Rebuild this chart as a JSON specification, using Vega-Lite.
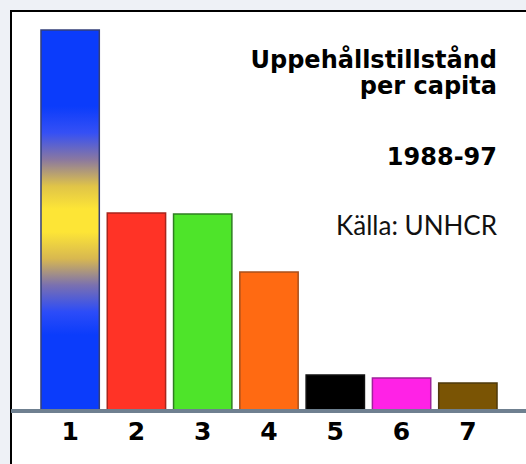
{
  "$schema": "https://vega.github.io/schema/vega-lite/v6.json",
  "width": 530,
  "height": 470,
  "autosize": {"type": "none"},
  "padding": {"left": 11, "top": 11, "right": 0, "bottom": 0},
  "background": "#eef1f6",
  "config": {"view": {"fill": "white", "stroke": "black", "strokeWidth": 2}},
  "data": {"values": [
    {"c": "1", "v": 3.81},
    {"c": "2", "v": 1.98},
    {"c": "3", "v": 1.97},
    {"c": "4", "v": 1.39},
    {"c": "5", "v": 0.36},
    {"c": "6", "v": 0.33},
    {"c": "7", "v": 0.28}
  ]},
  "layer": [
    {
      "transform": [{"filter": "datum.c != '1'"}],
      "mark": {"type": "bar", "strokeWidth": 1.5},
      "encoding": {
        "x": {"field": "c", "type": "nominal", "axis": null, "scale": {"range": [26, 490], "paddingInner": 0.12, "paddingOuter": 0.06}},
        "y": {"field": "v", "type": "quantitative", "axis": null, "scale": {"domain": [0, 4], "range": [400, 0], "nice": false}},
        "fill": {"field": "c", "type": "nominal", "legend": null, "scale": {"domain": ["2", "3", "4", "5", "6", "7"], "range": ["#ff3326", "#4ee42a", "#ff6a12", "#000000", "#ff22e6", "#7a5404"]}},
        "stroke": {"field": "c", "type": "nominal", "legend": null, "scale": {"domain": ["2", "3", "4", "5", "6", "7"], "range": ["#a8251c", "#2f7d22", "#a8501c", "#111111", "#a0209a", "#4e3a0c"]}}
      }
    },
    {
      "transform": [{"filter": "datum.c == '1'"}],
      "mark": {"type": "bar", "strokeWidth": 1.5, "stroke": "#34407a",
        "fill": {"gradient": "linear", "x1": 0, "y1": 0, "x2": 0, "y2": 1, "stops": [
          {"offset": 0, "color": "#0b3cfb"},
          {"offset": 0.2, "color": "#0b3cfb"},
          {"offset": 0.27, "color": "#3550f5"},
          {"offset": 0.34, "color": "#8a78a0"},
          {"offset": 0.41, "color": "#e0c448"},
          {"offset": 0.47, "color": "#fde536"},
          {"offset": 0.53, "color": "#fde536"},
          {"offset": 0.6, "color": "#d8b850"},
          {"offset": 0.67, "color": "#7a70b0"},
          {"offset": 0.74, "color": "#2c4cf8"},
          {"offset": 0.8, "color": "#0b3cfb"},
          {"offset": 1, "color": "#0b3cfb"}
        ]}},
      "encoding": {
        "x": {"field": "c", "type": "nominal"},
        "y": {"field": "v", "type": "quantitative"}
      }
    },
    {
      "mark": {"type": "rule", "color": "#6f8090", "strokeWidth": 3},
      "encoding": {"y": {"datum": 0, "type": "quantitative"}}
    },
    {
      "mark": {"type": "text", "font": "DejaVu Sans", "fontWeight": "bold", "fontSize": 25, "baseline": "alphabetic", "color": "black"},
      "encoding": {
        "x": {"field": "c", "type": "nominal"},
        "y": {"datum": -0.29, "type": "quantitative"},
        "text": {"field": "c"}
      }
    },
    {
      "data": {"values": [{}]},
      "mark": {"type": "text", "font": "DejaVu Sans", "fontWeight": "bold", "fontSize": 24, "align": "right", "baseline": "alphabetic", "lineHeight": 26, "color": "black"},
      "encoding": {
        "x": {"datum": "7", "type": "nominal", "bandPosition": 1},
        "y": {"datum": 3.43, "type": "quantitative"},
        "text": {"value": ["Uppehållstillstånd", "per capita"]}
      }
    },
    {
      "data": {"values": [{}]},
      "mark": {"type": "text", "font": "DejaVu Sans", "fontWeight": "bold", "fontSize": 24, "align": "right", "baseline": "alphabetic", "color": "black"},
      "encoding": {
        "x": {"datum": "7", "type": "nominal", "bandPosition": 1},
        "y": {"datum": 2.46, "type": "quantitative"},
        "text": {"value": "1988-97"}
      }
    },
    {
      "data": {"values": [{}]},
      "mark": {"type": "text", "font": "Lato", "fontSize": 26, "align": "right", "baseline": "alphabetic", "color": "#111111"},
      "encoding": {
        "x": {"datum": "7", "type": "nominal", "bandPosition": 1},
        "y": {"datum": 1.76, "type": "quantitative"},
        "text": {"value": "Källa: UNHCR"}
      }
    }
  ]
}
